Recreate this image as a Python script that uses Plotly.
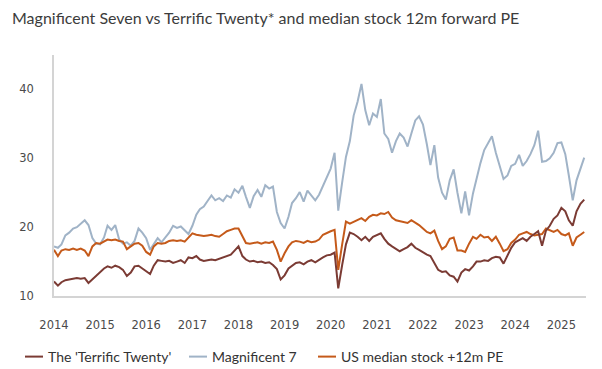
import pandas as pd
import plotly.graph_objects as go

dates = pd.date_range("2014-01-01", periods=139, freq="MS")

terrific_twenty = [
    12.1, 11.5, 12.0, 12.3, 12.4, 12.5, 12.6, 12.5, 12.6, 11.9, 12.4, 13.0,
    13.4, 14.0, 14.3, 14.1, 14.4, 14.2, 13.8, 12.9, 13.4, 14.3, 14.4, 14.0,
    13.6, 13.2, 14.4, 15.2, 15.1, 15.0, 15.1, 14.8, 15.0, 15.2, 14.8, 15.6,
    15.5, 15.8, 15.3, 15.1, 15.2, 15.3, 15.2, 15.4, 15.6, 15.8, 16.0, 16.6,
    17.2, 15.8, 15.3, 15.0, 15.1, 14.9, 15.0, 14.8, 14.9, 14.5, 13.9, 12.4,
    13.0, 14.0, 14.4, 14.8, 14.9, 14.6, 15.0, 15.2, 14.9, 15.3, 15.6, 15.9,
    16.0, 16.3, 11.1, 14.5, 17.5, 19.2, 19.0, 18.6, 18.1, 18.6, 18.0, 18.6,
    18.8, 19.1, 18.3, 17.6, 17.2, 16.8, 16.5, 16.8, 17.1, 17.6, 17.0, 16.7,
    16.3, 16.0, 15.8, 14.7, 13.8, 13.5, 13.6, 13.0, 12.8, 12.1, 13.4, 13.9,
    13.7, 14.3, 15.0, 15.0, 15.2, 15.1, 15.5, 15.7, 15.6, 14.7, 15.9, 17.0,
    17.8, 18.1, 18.4, 18.0, 18.6, 19.0, 19.4, 17.3, 19.5, 20.2, 21.2, 21.7,
    22.8, 22.3, 21.0, 20.2, 22.3, 23.4, 24.0,
]

magnificent_7 = [
    17.2, 17.0, 17.5, 18.8, 19.2, 19.8, 20.0, 20.5, 21.0, 20.3, 18.4, 17.6,
    17.5, 18.5, 20.2, 19.6, 20.3, 18.2, 17.6, 17.8, 17.3, 18.0, 19.8, 19.2,
    18.4, 16.7, 17.6, 18.4, 17.8, 18.6, 19.2, 20.2, 19.9, 20.1, 19.5, 19.0,
    20.2, 21.8, 22.6, 23.0, 23.8, 24.6, 23.9, 24.2, 23.8, 24.6, 24.3, 25.5,
    25.0, 26.0, 24.4, 22.8, 24.5, 25.4, 24.4, 26.1, 25.6, 25.9, 22.2, 20.6,
    19.8, 21.5, 23.5, 24.2, 25.1, 23.7, 25.3, 24.6, 23.9, 24.7, 25.9, 27.2,
    28.5, 30.8, 22.4, 26.5, 30.2, 32.5, 36.2, 38.2, 40.8, 37.0, 34.8, 36.5,
    36.0, 38.6, 33.6, 32.8, 30.8, 32.5, 33.6, 33.0, 31.7, 33.6, 35.5, 36.1,
    34.9, 32.0, 29.0, 31.9, 27.2, 25.0, 24.0, 26.8, 28.4, 25.0, 22.0, 25.2,
    21.7, 24.9, 27.2, 29.3, 31.2, 32.2, 33.2, 30.8, 29.0, 27.0, 27.5, 28.9,
    29.2, 30.5, 28.9, 29.6, 30.6, 31.9, 34.0, 29.5, 29.6, 30.0, 30.8, 32.2,
    32.3, 30.6, 27.5, 23.9, 26.8, 28.4, 30.1,
]

us_median = [
    16.7, 15.8, 16.6, 16.8, 16.7, 16.9, 16.7, 16.9, 16.6, 15.8, 17.2, 17.7,
    17.6, 17.9, 18.2, 18.1, 18.2, 18.0, 17.9, 16.8, 17.2, 17.6, 17.7, 17.3,
    16.4, 16.0, 17.2, 17.7, 17.6, 17.7, 18.0, 18.1, 18.0, 18.1, 17.9, 18.5,
    19.1, 18.9, 18.8, 18.7, 18.8, 18.9, 18.7, 18.6, 19.0, 19.4, 19.6, 19.8,
    19.8, 18.6, 17.7, 17.6, 17.7, 17.8, 17.6, 17.8, 17.7, 17.9, 16.7, 15.0,
    16.2, 17.2, 17.8, 18.0, 17.9, 17.7, 18.0, 17.8, 17.9, 18.2, 18.9, 19.2,
    19.4, 19.6, 13.8, 17.5, 20.8, 20.5, 20.8, 21.0, 21.3, 20.9, 21.5, 21.8,
    21.7, 22.0, 21.9, 22.2, 21.4, 21.0, 20.9, 20.7, 20.6, 21.0, 20.7, 20.3,
    19.8, 19.3, 19.1, 19.5, 18.0, 16.8, 17.2, 18.3, 18.5, 16.6, 16.6, 16.4,
    17.6, 18.6, 18.3, 18.9, 18.5, 18.6, 18.0, 18.6, 17.6, 16.5, 16.8, 17.7,
    18.2, 18.9, 19.1, 19.3, 19.0, 18.8, 18.9, 19.0, 19.8, 19.6, 19.3, 19.6,
    19.0, 18.8, 19.1, 17.3, 18.5, 18.9, 19.3,
]

y_ticks = [10, 20, 30, 40]

series_names = ["The 'Terrific Twenty'", "Magnificent 7", "US median stock +12m PE"]
colors = ["#7b3b34", "#a0b3c7", "#c55a1a"]
series_values = [terrific_twenty, magnificent_7, us_median]
legend_ids = ["legend", "legend2", "legend3"]

W, H = 602, 369

fig = go.Figure()
# blue drawn first so the other two sit on top of it
for i in [1, 2, 0]:
    fig.add_trace(go.Scatter(x=dates, y=series_values[i], mode="lines", name=series_names[i],
                             line=dict(color=colors[i], width=2), hoverinfo="skip",
                             legend=legend_ids[i]))

legend_font = dict(family="Lato", size=14, color="#333333")
legend_common = dict(orientation="h", xref="container", xanchor="left",
                     yref="container", y=1 - 357 / H, yanchor="middle",
                     font=legend_font, bgcolor="rgba(0,0,0,0)")

tick_font = dict(family="DejaVu Sans", size=11.5, color="#4a4a4a")

fig.update_layout(
    width=W, height=H,
    margin=dict(l=54, r=16, t=55, b=73, autoexpand=False),
    paper_bgcolor="white", plot_bgcolor="white",
    title=dict(text="Magnificent Seven vs Terrific Twenty* and median stock 12m forward PE",
               x=12 / W, xanchor="left", y=1 - 18 / H, yanchor="middle",
               font=dict(family="Lato", size=16, color="#3c3c3c")),
    xaxis=dict(type="date", range=["2014-01-01", "2025-07-15"], showgrid=False,
               showline=True, linecolor="#d4d4d4", linewidth=1.5,
               tick0="2014-01-01", dtick="M12", tickformat="%Y",
               ticks="", zeroline=False, ticklabelstandoff=17, tickfont=tick_font),
    yaxis=dict(range=[10, 45], tickmode="array", tickvals=y_ticks, showgrid=False,
               showline=True, linecolor="#d4d4d4", linewidth=1.5, zeroline=False,
               ticks="", ticklabelstandoff=16, tickfont=tick_font),
    showlegend=True,
    legend=dict(x=8 / W, **legend_common),
    legend2=dict(x=172 / W, **legend_common),
    legend3=dict(x=301 / W, **legend_common),
)

post = """
document.body.style.margin='0';
document.body.style.overflow='hidden';
var gd = document.getElementById('{plot_id}');
function shortenLegendLines(){
  gd.querySelectorAll('.legendlines path').forEach(function(p){ p.setAttribute('d','M17,0h18'); });
}
shortenLegendLines();
gd.on('plotly_afterplot', shortenLegendLines);
"""

fig.write_html("out.html", post_script=post, config={"displayModeBar": False})
